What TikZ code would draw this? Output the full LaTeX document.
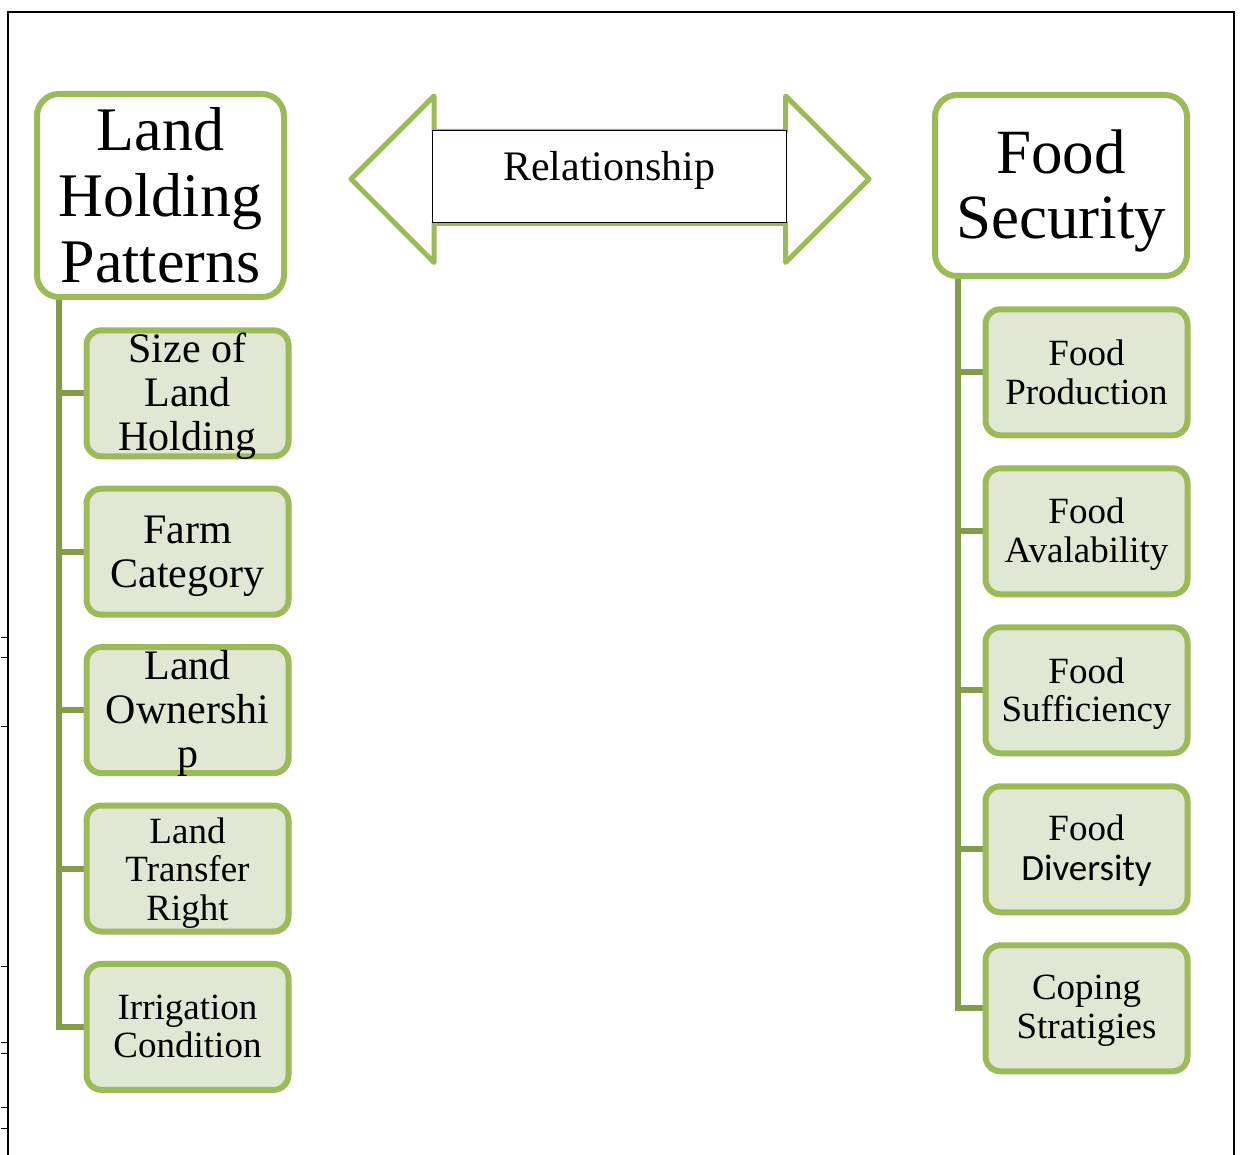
\documentclass[tikz,border=0pt]{standalone}
\usepackage{fontspec}
\setmainfont{Liberation Serif}
\newfontfamily\calibrifont{Carlito}
\usetikzlibrary{backgrounds}

\definecolor{boxgreen}{RGB}{155,187,89}
\definecolor{linkgreen}{RGB}{130,156,74}
\definecolor{paleleaf}{RGB}{224,232,212}

\begin{document}
\begin{tikzpicture}[x=1pt,y=-1pt,
  frame/.style={draw=black, line width=1.4pt},
  tickmark/.style={draw=black, line width=0.8pt},
  headbox/.style={draw=boxgreen, line width=6pt, fill=white,
    rounded corners=22pt, inner sep=0pt},
  headtext/.style={align=center, inner sep=0pt,
    font=\fontsize{62}{66}\selectfont},
  leafbox/.style={draw=boxgreen, line width=6pt, fill=paleleaf,
    rounded corners=15pt, inner sep=0pt,
    minimum width=202pt, minimum height=126pt},
  bigleaf/.style={align=center, inner sep=0pt,
    font=\fontsize{42}{44}\selectfont},
  smallleaf/.style={align=center, inner sep=0pt,
    font=\fontsize{37}{38.5}\selectfont},
  link/.style={draw=linkgreen, line width=6pt},
  twoway/.style={draw=boxgreen, line width=5pt, fill=white, line join=round},
  relbox/.style={draw=black, line width=1pt, fill=white, inner sep=0pt,
    minimum width=353.7pt, minimum height=91.7pt}
]
\useasboundingbox (0,0) rectangle (1241,1155);

% page frame and small marks on the left edge
\draw[frame] (8,1155) -- (8,12) -- (1234,12) -- (1234,1155);
\foreach \t in {637,657,726,966,1042,1053,1107,1128}
  \draw[tickmark] (1,\t) -- (8,\t);

% two-headed arrow with its label
\draw[twoway] (351,179) -- (434,96) -- (434,131.5) -- (785.7,131.5)
  -- (785.7,96) -- (869,179) -- (785.7,262.5) -- (785.7,223.5)
  -- (434,223.5) -- (434,262.5) -- cycle;
\node[relbox] (rel) at (609.2,176.8) {};
\node[anchor=base, inner sep=0pt, font=\fontsize{42}{44}\selectfont]
  (relt) at (609.2,181) {Relationship};

% left hierarchy
\node[headbox, minimum width=247pt, minimum height=203pt] (lhp) at (160.5,195.5) {};
\node[headtext] (lhpt) at (160.5,195.5) {Land\\Holding\\Patterns};

\node[leafbox] (l1) at (187.5,393.3) {};
\node[bigleaf] (l1t) at (187.5,396.5) {Size of\\Land\\Holding};
\node[leafbox] (l2) at (187.5,551.7) {};
\node[bigleaf] (l2t) at (187.5,556.7) {Farm\\Category};
\node[leafbox] (l3) at (187.5,710.1) {};
\node[bigleaf] (l3t) at (187.5,713.7) {Land\\Ownershi\\p};
\node[leafbox] (l4) at (187.5,868.5) {};
\node[smallleaf] (l4t) at (187.5,872.9) {Land\\Transfer\\Right};
\node[leafbox] (l5) at (187.5,1026.9) {};
\node[smallleaf] (l5t) at (187.5,1026.6) {Irrigation\\Condition};

% right hierarchy
\node[headbox, minimum width=252pt, minimum height=181pt] (fs) at (1061,185.5) {};
\node[headtext, font=\fontsize{63}{65}\selectfont] (fst) at (1061,191) {Food\\Security};

\node[leafbox] (r1) at (1086.5,372.3) {};
\node[smallleaf] (r1t) at (1086.5,372.4) {Food\\Production};
\node[leafbox] (r2) at (1086.5,531.3) {};
\node[smallleaf] (r2t) at (1086.5,534.4) {Food\\Avalability};
\node[leafbox] (r3) at (1086.5,690.3) {};
\node[smallleaf] (r3t) at (1086.5,693.5) {Food\\Sufficiency};
\node[leafbox] (r4) at (1086.5,849.3) {};
\node[smallleaf, font=\fontsize{37}{40}\selectfont] (r4t) at (1086.5,850.5) {Food\\{\calibrifont Diversity}};
\node[leafbox] (r5) at (1086.5,1008.3) {};
\node[smallleaf] (r5t) at (1086.5,1010.5) {Coping\\Stratigies};

% connectors behind the boxes
\begin{scope}[on background layer]
  \coordinate (ltrunk) at ([xshift=25pt]lhp.south west);
  \draw[link] (ltrunk) |- (l5.west);
  \foreach \n in {l1,l2,l3,l4}
    \draw[link] (\n.west) -- (\n.west -| ltrunk);
  \coordinate (rtrunk) at ([xshift=25.5pt]fs.south west);
  \draw[link] (rtrunk) |- (r5.west);
  \foreach \n in {r1,r2,r3,r4}
    \draw[link] (\n.west) -- (\n.west -| rtrunk);
\end{scope}
\end{tikzpicture}
\end{document}
